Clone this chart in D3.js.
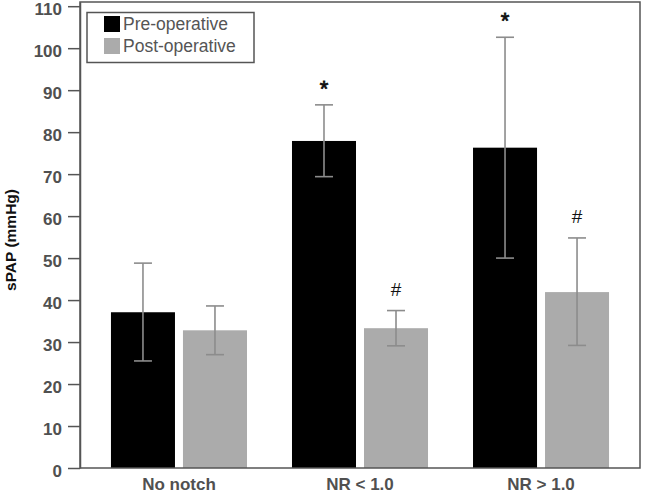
<!DOCTYPE html>
<html>
<head>
<meta charset="utf-8">
<script src="https://cdn.jsdelivr.net/npm/d3@7"></script>
<style>
  html, body { margin: 0; padding: 0; background: #fff; }
  svg { display: block; font-family: "Liberation Sans", Arial, sans-serif; }
</style>
</head>
<body>
<svg id="chart" width="645" height="497"></svg>
<script>
const categories = ["No notch", "NR < 1.0", "NR > 1.0"];
const seriesNames = ["Pre-operative", "Post-operative"];
const preValues = [37.1, 77.9, 76.3];
const preErrLow = [25.5, 69.4, 50.0];
const preErrHigh = [48.8, 86.5, 102.6];
const postValues = [32.8, 33.3, 41.9];
const postErrLow = [27.0, 29.1, 29.2];
const postErrHigh = [38.6, 37.5, 54.8];
const preMarks = ["", "*", "*"];
const postMarks = ["", "#", "#"];
const yTicks = [0, 10, 20, 30, 40, 50, 60, 70, 80, 90, 100, 110];
const colors = ["#000000", "#ababab"];

const svg = d3.select("#chart");
const mLeft = 80, mRight = 640, mTop = 2, mBottom = 468;

const x = d3.scaleBand().domain(categories).range([mLeft, mRight]).paddingInner(0.2486).paddingOuter(0.171);
const xs = d3.scaleBand().domain(seriesNames).range([0, x.bandwidth()]).paddingInner(0.111);
const y = d3.scaleLinear().domain([0, 111]).range([mBottom, mTop]);

const series = [
  { name: seriesNames[0], values: preValues, lo: preErrLow, hi: preErrHigh, marks: preMarks, color: colors[0] },
  { name: seriesNames[1], values: postValues, lo: postErrLow, hi: postErrHigh, marks: postMarks, color: colors[1] }
];

// bars
series.forEach(s => {
  const g = svg.append("g");
  g.selectAll("rect").data(categories).join("rect")
    .attr("x", c => x(c) + xs(s.name))
    .attr("y", (c, i) => y(s.values[i]))
    .attr("width", xs.bandwidth())
    .attr("height", (c, i) => y(0) - y(s.values[i]))
    .attr("fill", s.color);
});

// error bars
series.forEach(s => {
  const g = svg.append("g").attr("stroke", "#8c8c8c").attr("stroke-width", 1.6);
  categories.forEach((c, i) => {
    const cx = x(c) + xs(s.name) + xs.bandwidth() / 2;
    g.append("line").attr("x1", cx).attr("x2", cx).attr("y1", y(s.lo[i])).attr("y2", y(s.hi[i]));
    g.append("line").attr("x1", cx - 9).attr("x2", cx + 9).attr("y1", y(s.lo[i])).attr("y2", y(s.lo[i]));
    g.append("line").attr("x1", cx - 9).attr("x2", cx + 9).attr("y1", y(s.hi[i])).attr("y2", y(s.hi[i]));
  });
});

// significance marks
series.forEach(s => {
  categories.forEach((c, i) => {
    if (!s.marks[i]) return;
    const cx = x(c) + xs(s.name) + xs.bandwidth() / 2;
    const isStar = s.marks[i] === "*";
    svg.append("text")
      .attr("x", cx)
      .attr("y", y(s.hi[i]) + (isStar ? -9 : -15))
      .attr("text-anchor", "middle")
      .attr("font-size", isStar ? 22 : 19)
      .attr("font-weight", "normal")
      .attr("stroke", isStar ? "#111" : "none")
      .attr("stroke-width", isStar ? 0.8 : 0)
      .attr("fill", "#111")
      .text(s.marks[i]);
  });
});

// frame
svg.append("rect").attr("x", mLeft).attr("y", mTop).attr("width", mRight - mLeft).attr("height", mBottom - mTop)
  .attr("fill", "none").attr("stroke", "#555").attr("stroke-width", 1.5);

// y axis
const yAxis = d3.axisLeft(y).tickValues(yTicks).tickSize(12).tickPadding(6).tickSizeOuter(0);
const yg = svg.append("g").attr("transform", `translate(${mLeft},0)`).call(yAxis);
yg.select(".domain").attr("stroke", "#555").attr("stroke-width", 1.5);
yg.selectAll(".tick line").attr("stroke", "#555").attr("stroke-width", 1.5);
yg.selectAll(".tick text").attr("font-size", 17).attr("font-weight", "bold").attr("fill", "#505050")
  .attr("dy", "0.5em")
  .attr("font-family", "Liberation Sans, Arial, sans-serif");

// x axis labels
const xAxis = d3.axisBottom(x).tickSize(0).tickPadding(10);
const xg = svg.append("g").attr("transform", `translate(0,${mBottom})`).call(xAxis);
xg.select(".domain").remove();
xg.selectAll(".tick text").attr("font-size", 17).attr("font-weight", "bold").attr("fill", "#505050")
  .attr("font-family", "Liberation Sans, Arial, sans-serif");

// y label
svg.append("text")
  .attr("transform", "translate(16,240) rotate(-90)")
  .attr("text-anchor", "middle")
  .attr("font-size", 15.5)
  .attr("font-weight", "bold")
  .attr("fill", "#111")
  .text("sPAP (mmHg)");

// legend
const lg = svg.append("g");
lg.append("rect").attr("x", 87).attr("y", 12.5).attr("width", 167).attr("height", 50)
  .attr("fill", "#fff").attr("stroke", "#555").attr("stroke-width", 1.5);
seriesNames.forEach((n, i) => {
  lg.append("rect").attr("x", 104).attr("y", 16 + i * 22).attr("width", 16).attr("height", 16).attr("fill", colors[i]);
  lg.append("text").attr("x", 123).attr("y", 30 + i * 22).attr("font-size", 17.5).attr("fill", "#555").text(n);
});
</script>
</body>
</html>
